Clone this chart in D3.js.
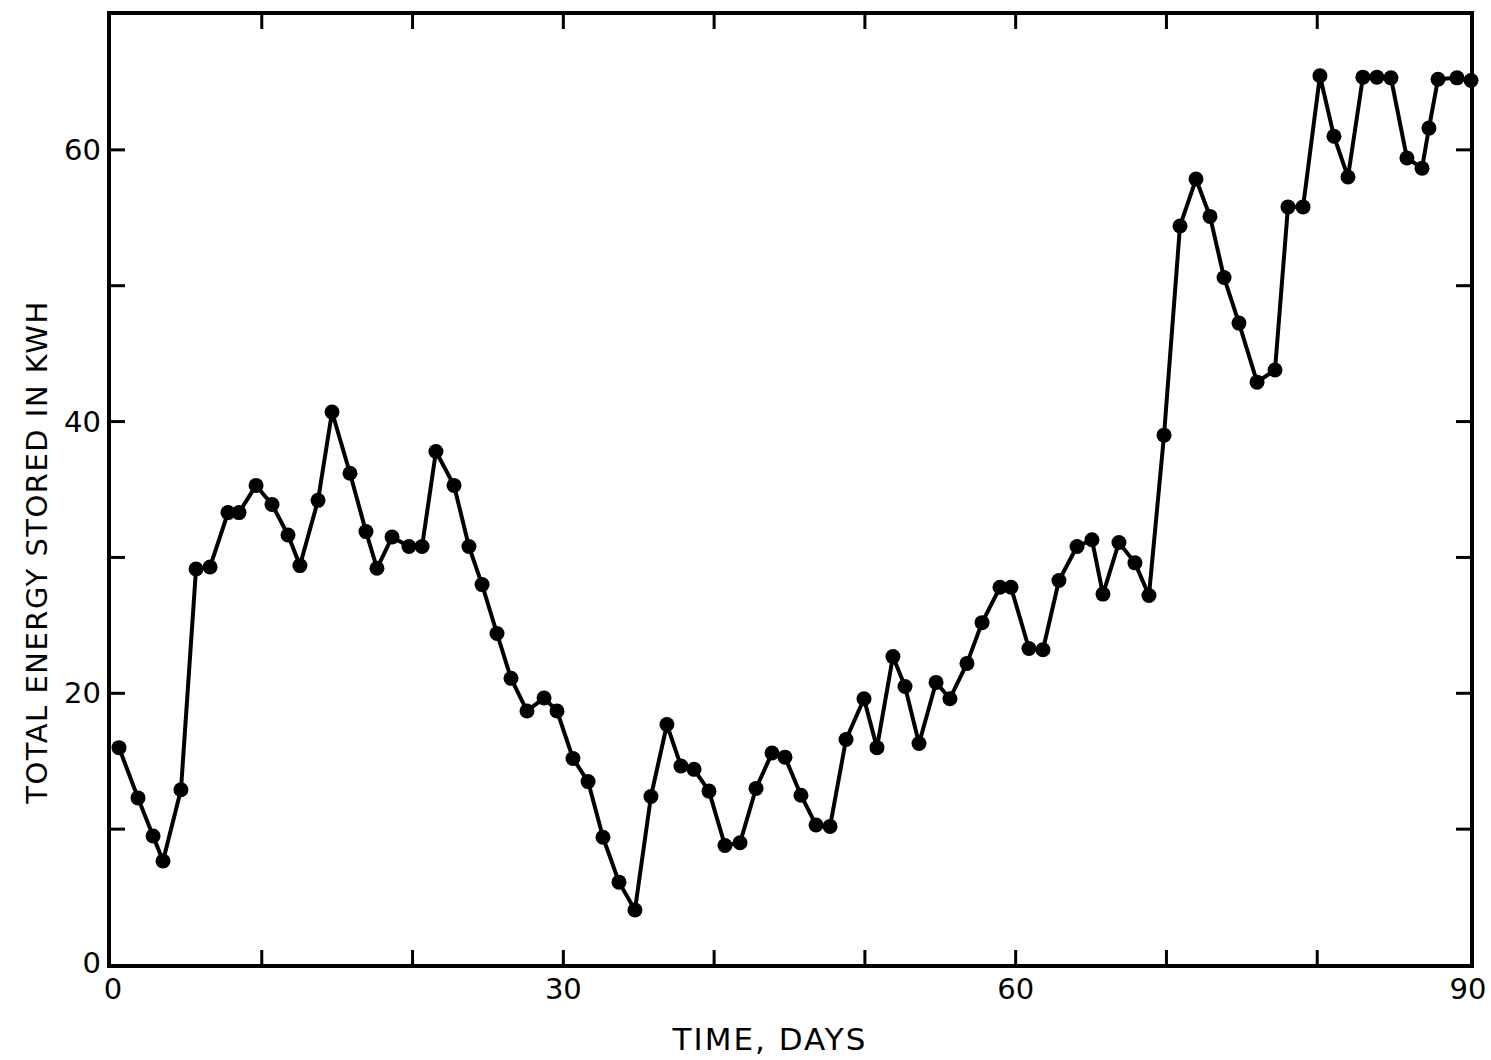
<!DOCTYPE html>
<html>
<head>
<meta charset="utf-8">
<script src="https://cdn.jsdelivr.net/npm/d3@7"></script>
<style>
  body { margin: 0; background: #fff; }
  text { font-family: "DejaVu Sans", sans-serif; fill: #000; }
</style>
</head>
<body>
<div class="container"></div>
<script>
// time in days
var days = [0.53, 1.79, 2.79, 3.45, 4.64, 5.64, 6.57, 7.76, 8.49, 9.62,
    10.68, 11.74, 12.53, 13.73, 14.66, 15.85, 16.91, 17.64, 18.64, 19.76,
    20.63, 21.55, 22.75, 23.74, 24.61, 25.60, 26.53, 27.59, 28.72, 29.58,
    30.64, 31.64, 32.63, 33.69, 34.75, 35.81, 36.87, 37.80, 38.67, 39.66,
    40.72, 41.72, 42.78, 43.84, 44.70, 45.76, 46.76, 47.69, 48.75, 49.94,
    50.80, 51.86, 52.66, 53.59, 54.72, 55.64, 56.77, 57.77, 58.96, 59.69,
    60.88, 61.81, 62.87, 64.07, 65.06, 65.79, 66.85, 67.91, 68.84, 69.84,
    70.90, 71.96, 72.89, 73.82, 74.81, 76.01, 77.20, 78.06, 79.06, 80.18,
    81.11, 82.04, 83.03, 83.96, 84.89, 85.95, 86.95, 87.41, 88.01, 89.27,
    90.2];

// total energy stored, kWh
var energy = [16.0, 12.3, 9.5, 7.65, 12.9, 29.15, 29.3, 33.3, 33.3, 35.3,
    33.9, 31.65, 29.4, 34.2, 40.7, 36.2, 31.9, 29.2, 31.5, 30.8,
    30.8, 37.8, 35.3, 30.8, 28.0, 24.4, 21.1, 18.7, 19.65, 18.7,
    15.2, 13.5, 9.4, 6.1, 4.05, 12.4, 17.7, 14.65, 14.4, 12.8,
    8.8, 9.0, 13.0, 15.6, 15.3, 12.5, 10.3, 10.2, 16.6, 19.6,
    16.0, 22.7, 20.5, 16.3, 20.8, 19.6, 22.2, 25.2, 27.8, 27.8,
    23.3, 23.2, 28.3, 30.8, 31.3, 27.3, 31.1, 29.6, 27.2, 39.0,
    54.4, 57.85, 55.1, 50.6, 47.25, 42.9, 43.8, 55.8, 55.8, 65.45,
    61.0, 58.0, 65.35, 65.35, 65.3, 59.4, 58.65, 61.6, 65.2, 65.3,
    65.1];

var xTicks = [0, 10, 20, 30, 40, 50, 60, 70, 80, 90];
var xLabels = [0, 30, 60, 90];
var yTicks = [0, 10, 20, 30, 40, 50, 60, 70];
var yLabels = [0, 20, 40, 60];

var xTitle = "TIME, DAYS";
var yTitle = "TOTAL ENERGY STORED IN KWH";

var w = 1491;
var h = 1060;

var dataset = [];
for (var i = 0; i < days.length; i++) {
    dataset.push([days[i], energy[i]]);
}

var svg = d3.select(".container")
    .append("svg")
    .attr("width", w)
    .attr("height", h);

var x = d3.scaleLinear()
    .domain([0, 90])
    .range([111, 1468]);

var y = d3.scaleLinear()
    .domain([0, 70])
    .range([965, 14]);

// frame edges (window.top is taken, so no "top" here)
var fLeft = x(0) - 2, fRight = x(90) + 4, fTop = y(70) - 1, fBottom = y(0) + 1;
var tick = 16;

svg.append("rect")
    .attr("x", fLeft)
    .attr("y", fTop)
    .attr("width", fRight - fLeft)
    .attr("height", fBottom - fTop)
    .attr("fill", "none")
    .attr("stroke", "#000")
    .attr("stroke-width", 4);

// inward ticks on all four sides
var g = svg.append("g").attr("stroke", "#000").attr("stroke-width", 3);

g.selectAll(".xb").data(xTicks.slice(1, -1)).enter().append("line")
    .attr("x1", function(d) { return x(d); })
    .attr("x2", function(d) { return x(d); })
    .attr("y1", fBottom)
    .attr("y2", fBottom - tick);

g.selectAll(".xt").data(xTicks.slice(1, -1)).enter().append("line")
    .attr("x1", function(d) { return x(d); })
    .attr("x2", function(d) { return x(d); })
    .attr("y1", fTop)
    .attr("y2", fTop + tick);

g.selectAll(".yl").data(yTicks.slice(1, -1)).enter().append("line")
    .attr("y1", function(d) { return y(d); })
    .attr("y2", function(d) { return y(d); })
    .attr("x1", fLeft)
    .attr("x2", fLeft + tick);

g.selectAll(".yr").data(yTicks.slice(1, -1)).enter().append("line")
    .attr("y1", function(d) { return y(d); })
    .attr("y2", function(d) { return y(d); })
    .attr("x1", fRight)
    .attr("x2", fRight - tick);

// tick labels
svg.selectAll(".xl").data(xLabels).enter().append("text")
    .attr("x", function(d) { return x(d) + (d === 0 ? 2 : 0); })
    .attr("y", fBottom + 33)
    .attr("text-anchor", "middle")
    .attr("font-size", "29px")
    .text(function(d) { return d; });

svg.selectAll(".ylab").data(yLabels).enter().append("text")
    .attr("x", fLeft - 8)
    .attr("y", function(d) { return y(d) + 10 - (d === 0 ? 2 : 0); })
    .attr("text-anchor", "end")
    .attr("font-size", "29px")
    .text(function(d) { return d; });

// axis titles
svg.append("text")
    .attr("x", 770)
    .attr("y", 1050)
    .attr("text-anchor", "middle")
    .attr("font-size", "31px")
    .attr("letter-spacing", "2px")
    .text(xTitle);

svg.append("text")
    .attr("transform", "translate(47,552)rotate(-90)")
    .attr("text-anchor", "middle")
    .attr("font-size", "29px")
    .attr("letter-spacing", "1.5px")
    .text(yTitle);

// series
var line = d3.line()
    .x(function(d) { return x(d[0]); })
    .y(function(d) { return y(d[1]); });

svg.append("path")
    .datum(dataset)
    .attr("d", line)
    .attr("fill", "none")
    .attr("stroke", "#000")
    .attr("stroke-width", 4)
    .attr("stroke-linejoin", "round");

svg.selectAll("circle")
    .data(dataset)
    .enter()
    .append("circle")
    .attr("cx", function(d) { return x(d[0]); })
    .attr("cy", function(d) { return y(d[1]); })
    .attr("r", 7.5)
    .attr("fill", "#000");
</script>
</body>
</html>
